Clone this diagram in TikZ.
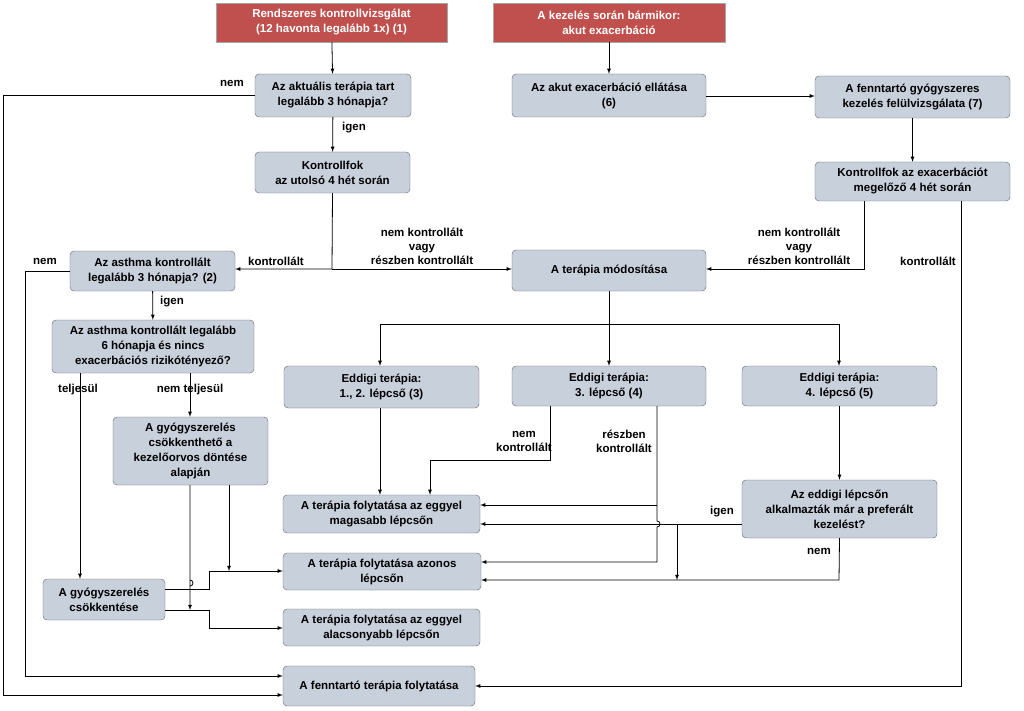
\documentclass[tikz,border=0pt]{standalone}
\usepackage{fontspec}
\setmainfont{Liberation Sans}
\begin{document}
\begin{tikzpicture}[x=1pt,y=-1pt,
 box/.style={draw=gray!80!black,fill=boxc,rounded corners=4pt,align=center,font=\bfseries\fontsize{11.5}{15}\selectfont,inner sep=1pt},
 red/.style={draw=gray!70,fill=redc,text=white,align=center,font=\bfseries\fontsize{11.5}{15}\selectfont,inner sep=1pt},
 lab/.style={font=\bfseries\fontsize{11.5}{14}\selectfont,align=center},
 ar/.style={-latex,line width=0.8pt},
 ln/.style={line width=0.8pt}]
\definecolor{boxc}{HTML}{C8D0DC}
\definecolor{redc}{HTML}{C0504D}
\useasboundingbox[fill=white] (0,0) rectangle (1024,711);
\node[red,minimum width=231,minimum height=39] (R1) at (331.5,22.5) {Rendszeres kontrollvizsgálat\\(12 havonta legalább 1x) (1)};
\node[red,minimum width=232,minimum height=39] (R2) at (609,22.5) {A kezelés során bármikor:\\akut exacerbáció};
\node[box,minimum width=156,minimum height=43] (A) at (333,95.5) {Az aktuális terápia tart\\legalább 3 hónapja?};
\node[box,minimum width=155,minimum height=41] (B) at (332.5,172.5) {Kontrollfok\\az utolsó 4 hét során};
\node[box,minimum width=165,minimum height=40] (C) at (152.5,271) {Az asthma kontrollált\\legalább 3 hónapja? (2)};
\node[box,minimum width=202,minimum height=53] (D) at (153,346.5) {Az asthma kontrollált legalább\\6 hónapja és nincs\\exacerbációs rizikótényező?};
\node[box,minimum width=155,minimum height=68] (E) at (190.5,451) {A gyógyszerelés\\csökkenthető a\\kezelőorvos döntése\\alapján};
\node[box,minimum width=122,minimum height=41] (F) at (104,599.5) {A gyógyszerelés\\csökkentése};
\node[box,minimum width=194,minimum height=43] (G) at (609,95.5) {Az akut exacerbáció ellátása\\(6)};
\node[box,minimum width=195,minimum height=42] (H) at (912.5,97) {A fenntartó gyógyszeres\\kezelés felülvizsgálata (7)};
\node[box,minimum width=195,minimum height=39] (I) at (912.5,181.5) {Kontrollfok az exacerbációt\\megelőző 4 hét során};
\node[box,minimum width=194,minimum height=41] (J) at (609,270.5) {A terápia módosítása};
\node[box,minimum width=195,minimum height=42] (K1) at (381.5,387) {Eddigi terápia:\\1., 2. lépcső (3)};
\node[box,minimum width=194,minimum height=40] (K2) at (609,386) {Eddigi terápia:\\3. lépcső (4)};
\node[box,minimum width=195,minimum height=40] (K3) at (839.5,386) {Eddigi terápia:\\4. lépcső (5)};
\node[box,minimum width=195,minimum height=58] (L) at (839.5,509) {Az eddigi lépcsőn\\alkalmazták már a preferált\\kezelést?};
\node[box,minimum width=197,minimum height=38] (M1) at (381.5,514) {A terápia folytatása az eggyel\\magasabb lépcsőn};
\node[box,minimum width=198,minimum height=37] (M2) at (382,571.5) {A terápia folytatása azonos\\lépcsőn};
\node[box,minimum width=197,minimum height=37] (M3) at (381.5,627.5) {A terápia folytatása az eggyel\\alacsonyabb lépcsőn};
\node[box,minimum width=192,minimum height=40] (M4) at (379,686) {A fenntartó terápia folytatása};
% connectors
\draw[ar] (R1) -- (A);
\draw[ar] (R2) -- (G);
\draw[ar] (A.west) -- (3,95.5) -- (3,695) -- (M4.west |- 0,695);
\node[lab] at (232,83) {nem};
\draw[ar] (A) -- (B);
\node[lab] at (354,128) {igen};
\coordinate (j1) at (332,269);
\draw[ar] (B.south) -- (j1) -- (C.east |- j1);
\draw[ar] (j1) -- (J.west |- j1);
\node[lab] at (276,261) {kontrollált};
\node[lab] at (422,246) {nem kontrollált\\vagy\\részben kontrollált};
\draw[ar] (C.west) -- (25,271) -- (25,676) -- (M4.west |- 0,676);
\node[lab] at (45,261) {nem};
\draw[ar] (C) -- (D);
\node[lab] at (172,302) {igen};
\draw[ar] (80,373) -- (F.north -| 80,0);
\node[lab] at (78,390) {teljesül};
\draw[ar] (190,373) -- (E.north -| 190,0);
\node[lab] at (190,390) {nem teljesül};
\draw[ln] (F.east |- 0,589) -- (209,589) -- (209,571);
\draw[ar] (209,571) -- (M2.west |- 0,571);
\draw[ln] (F.east |- 0,610) -- (209,610) -- (209,628);
\draw[ar] (209,628) -- (M3.west |- 0,628);
\draw[ar] (E.south -| 190,0) -- (190,586) arc[start angle=90,end angle=-90,radius=3] -- (190,610);
\draw[ar] (E.south -| 229,0) -- (229,571);
\draw[ar] (G.east |- 0,96) -- (H.west |- 0,96);
\draw[ar] (H) -- (I);
\draw[ar] (I.south -| 864,0) -- (864,269) -- (J.east |- 0,269);
\node[lab] at (799,246) {nem kontrollált\\vagy\\részben kontrollált};
\draw[ar] (I.south -| 961,0) -- (961,686) -- (M4.east |- 0,686);
\node[lab] at (928,261) {kontrollált};
\draw[ln] (J.south) -- (609,324);
\draw[ln] (380,324) -- (839,324);
\draw[ar] (380,324) -- (K1.north -| 380,0);
\draw[ar] (609,324) -- (K2);
\draw[ar] (839,324) -- (K3.north -| 839,0);
\draw[ar] (K1.south -| 380,0) -- (M1.north -| 380,0);
\draw[ar] (K2.south -| 550,0) -- (550,460) -- (430,460) -- (M1.north -| 430,0);
\node[lab] at (524,441) {nem\\kontrollált};
\draw[ar] (K2.south -| 657,0) -- (657,521) arc[start angle=-90,end angle=90,radius=3] -- (657,562) -- (M2.east |- 0,562);
\draw[ar] (657,505) -- (M1.east |- 0,505);
\node[lab] at (624,441) {részben\\kontrollált};
\draw[ar] (K3) -- (L);
\draw[ar] (L.west |- 0,524) -- (M1.east |- 0,524);
\draw[ar] (677,524) -- (677,580);
\node[lab] at (722,512) {igen};
\draw[ar] (L.south) -- (839,580) -- (M2.east |- 0,580);
\node[lab] at (819,551) {nem};
\end{tikzpicture}
\end{document}
